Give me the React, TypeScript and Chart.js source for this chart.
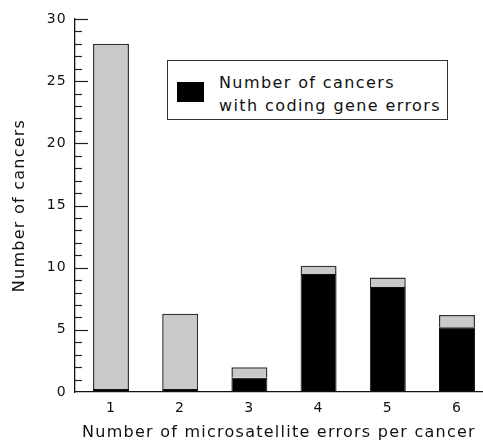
import React, { useEffect, useRef } from "react";
import { Chart, registerables } from "chart.js";

Chart.register(...registerables);

const categories = [1, 2, 3, 4, 5, 6];
const codingErrors = [0.25, 0.25, 1.15, 9.5, 8.45, 5.2];
const otherCancers = [27.75, 6.05, 0.85, 0.65, 0.75, 1.0];
const yTickLabels = [0, 5, 10, 15, 20, 25, 30];

const FONT = "'DejaVu Sans', 'Liberation Sans', Arial, sans-serif";

const insideTicks = {
  id: "insideTicks",
  beforeDraw(chart: any) {
    chart.ctx.letterSpacing = "1.25px";
  },
  afterDraw(chart: any) {
    const y = chart.scales.y;
    const ctx = chart.ctx;
    ctx.save();
    ctx.strokeStyle = "#222";
    ctx.lineWidth = 1.2;
    for (let v = 1; v <= 30; v++) {
      const py = Math.round(y.getPixelForValue(v)) + 0.5;
      const len = yTickLabels.includes(v) ? 13 : 7;
      ctx.beginPath();
      ctx.moveTo(y.right, py);
      ctx.lineTo(y.right + len, py);
      ctx.stroke();
    }
    ctx.restore();
  },
};

export default function App() {
  const ref = useRef<HTMLCanvasElement>(null);
  useEffect(() => {
    const chart = new Chart(ref.current!, {
      type: "bar",
      data: {
        datasets: [
          {
            label: "Number of cancers with coding gene errors",
            data: categories.map((c, i) => ({ x: c, y: codingErrors[i] })),
            backgroundColor: "#000000",
            borderColor: "#111111",
            borderWidth: 1,
            borderSkipped: false,
          },
          {
            label: "Other",
            data: categories.map((c, i) => ({ x: c, y: otherCancers[i] })),
            backgroundColor: "#c9c9c9",
            borderColor: "#333333",
            borderWidth: 1.5,
            borderSkipped: "start",
          },
        ] as any,
      },
      options: {
        animation: false,
        responsive: false,
        maintainAspectRatio: false,
        datasets: { bar: { categoryPercentage: 0.52, barPercentage: 1 } } as any,
        layout: { padding: { top: 19, left: 0, right: 0, bottom: 0 } },
        plugins: { legend: { display: false }, tooltip: { enabled: false } },
        scales: {
          x: {
            type: "linear",
            stacked: true,
            offset: false,
            min: 0.48,
            max: 6.376,
            afterBuildTicks: (s: any) => {
              s.ticks = categories.map((v) => ({ value: v }));
            },
            afterFit: (s: any) => {
              s.height = 50;
            },
            grid: { display: false, drawTicks: false, offset: false },
            border: { display: true, color: "#111", width: 1.3 },
            ticks: {
              color: "#111",
              font: { family: FONT, size: 14 },
              padding: 8,
              maxRotation: 0,
              callback: (v: any) => String(v),
            },
            title: {
              display: true,
              text: "Number of microsatellite errors per cancer",
              color: "#111",
              font: { family: FONT, size: 16 },
              padding: { top: 7, bottom: 0 },
            },
          },
          y: {
            stacked: true,
            min: 0,
            max: 30,
            afterFit: (s: any) => {
              s.width = 75;
            },
            grid: { display: false, drawTicks: false },
            border: { display: true, color: "#111", width: 1.3 },
            ticks: {
              stepSize: 1,
              autoSkip: false,
              color: "#111",
              font: { family: FONT, size: 14 },
              padding: 8,
              callback: (v: any) => (yTickLabels.includes(v) ? String(v) : ""),
            },
            title: {
              display: true,
              text: "Number of cancers",
              color: "#111",
              font: { family: FONT, size: 16 },
              padding: { top: 10, bottom: 0 },
            },
          },
        },
      } as any,
      plugins: [insideTicks],
    });
    return () => chart.destroy();
  }, []);

  return (
    <div style={{ position: "absolute", left: 0, top: 0, width: 483, height: 442, background: "#fff" }}>
      <canvas ref={ref} width={483} height={442} style={{ width: 483, height: 442, display: "block" }} />
      <div
        style={{
          position: "absolute",
          left: 167,
          top: 60,
          width: 279,
          height: 58,
          border: "1px solid #333",
          background: "#fff",
          fontFamily: FONT,
          fontSize: 16,
          letterSpacing: "1.4px",
          color: "#111",
        }}
      >
        <div style={{ position: "absolute", left: 9, top: 21, width: 27, height: 20, background: "#000" }} />
        <div style={{ position: "absolute", left: 51, top: 10, lineHeight: "23px", whiteSpace: "nowrap" }}>
          Number of cancers
          <br />
          with coding gene errors
        </div>
      </div>
    </div>
  );
}
